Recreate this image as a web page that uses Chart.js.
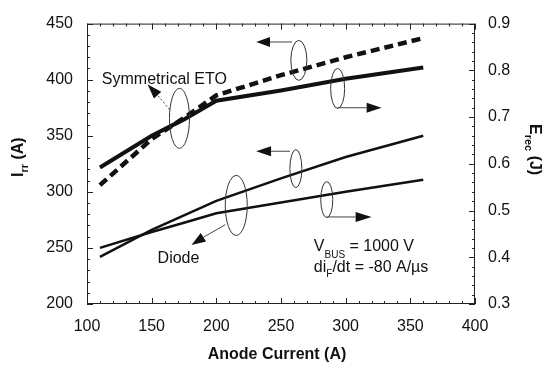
<!DOCTYPE html>
<html>
<head>
<meta charset="utf-8">
<script src="https://cdn.jsdelivr.net/npm/chart.js@4"></script>
<style>
  html, body { margin: 0; padding: 0; background: #fff; }
  canvas { display: block; }
</style>
</head>
<body>
<canvas id="chart" width="546" height="367"></canvas>
<script>
// values
const anodeCurrent = [110, 150, 175, 200, 250, 300, 360];
const etoIrr = [306, 347, 366, 386, 404, 420, 437];        // A, left axis (dashed)
const etoErec = [0.592, 0.66, 0.695, 0.735, 0.757, 0.782, 0.806]; // J, right axis
const diodeIrr = [242, 266, 279, 292, 312, 331, 350];      // A, left axis
const diodeErec = [0.42, 0.454, 0.474, 0.494, 0.517, 0.54, 0.566]; // J, right axis

const xTicks = [100, 150, 200, 250, 300, 350, 400];
const irrTicks = [200, 250, 300, 350, 400, 450];
const erecTicks = [0.3, 0.4, 0.5, 0.6, 0.7, 0.8, 0.9];

const FONT = "'Liberation Sans', Arial, sans-serif";
const INK = "#111";

const pts = (ys) => anodeCurrent.map((x, i) => ({ x, y: ys[i] }));

// annotation shapes, in (anode current, I_rr) units
const ellipses = [
  { x: 263.8, y: 417.2, rx: 8, ry: 20 },
  { x: 293.8, y: 392.2, rx: 7, ry: 20 },
  { x: 171.5, y: 365.5, rx: 10, ry: 30 },
  { x: 261.5, y: 320.7, rx: 6, ry: 19 },
  { x: 285.4, y: 293.1, rx: 6, ry: 18 },
  { x: 215.4, y: 287.9, rx: 11, ry: 30 }
];
const arrows = [
  { from: [258.5, 433.6], base: [241.5, 433.6], tip: [230.8, 433.6] },
  { from: [293.8, 375.0], base: [316.2, 375.0], tip: [327.7, 375.0] },
  { from: [163.8, 373.3], base: [154.6, 386.2], tip: [146.9, 395.7], dotted: true },
  { from: [256.9, 336.2], base: [242.3, 336.2], tip: [230.8, 336.2] },
  { from: [285.4, 277.6], base: [307.7, 277.6], tip: [320.0, 277.6] },
  { from: [206.9, 270.7], base: [190.0, 259.5], tip: [180.8, 252.6] }
];

function drawParts(ctx, parts, x, y) {
  let cx = x;
  parts.forEach(([txt, size, bold, dy]) => {
    ctx.font = `${bold ? "bold " : ""}${size}px ${FONT}`;
    ctx.fillText(txt, cx, y + dy);
    cx += ctx.measureText(txt).width;
  });
}

const decor = {
  id: "decor",
  afterDraw(chart) {
    const { ctx, chartArea: a, scales } = chart;
    const sx = scales.x, sy = scales.y, sy2 = scales.y2;
    const P = (x, y) => [sx.getPixelForValue(x), sy.getPixelForValue(y)];
    ctx.save();

    // frame
    ctx.strokeStyle = "#222";
    ctx.lineWidth = 1;
    ctx.strokeRect(a.left + 0.5, a.top + 0.5, a.right - a.left - 1, a.bottom - a.top - 1);

    // inward ticks
    ctx.beginPath();
    for (let v = 100; v <= 400; v += 10) {
      const px = Math.round(sx.getPixelForValue(v)) + 0.5;
      const len = v % 50 === 0 ? 6 : 3;
      ctx.moveTo(px, a.bottom); ctx.lineTo(px, a.bottom - len);
      ctx.moveTo(px, a.top); ctx.lineTo(px, a.top + len);
    }
    for (let v = 200; v <= 450; v += 10) {
      const py = Math.round(sy.getPixelForValue(v)) + 0.5;
      const len = v % 50 === 0 ? 6 : 3;
      ctx.moveTo(a.left, py); ctx.lineTo(a.left + len, py);
    }
    for (let k = 15; k <= 45; k++) {
      const v = k * 0.02;
      const py = Math.round(sy2.getPixelForValue(v)) + 0.5;
      const len = k % 5 === 0 ? 6 : 3;
      ctx.moveTo(a.right, py); ctx.lineTo(a.right - len, py);
    }
    ctx.stroke();

    // axis titles
    ctx.fillStyle = INK;
    ctx.textBaseline = "alphabetic";
    ctx.textAlign = "center";
    ctx.font = `bold 16px ${FONT}`;
    ctx.fillText("Anode Current (A)", 277, 359);
    ctx.textAlign = "left";

    ctx.save();
    ctx.translate(23, 177);
    ctx.rotate(-Math.PI / 2);
    drawParts(ctx, [["I", 16, true, 0], ["rr", 11, true, 5], [" (A)", 16, true, 0]], 0, 0);
    ctx.restore();

    ctx.save();
    ctx.translate(530, 124);
    ctx.rotate(Math.PI / 2);
    drawParts(ctx, [["E", 16, true, 0], ["rec", 11, true, 5], [" (J)", 16, true, 0]], 0, 0);
    ctx.restore();

    // ellipses
    ctx.strokeStyle = "#333";
    ctx.lineWidth = 1;
    ellipses.forEach(e => {
      const [cx, cy] = P(e.x, e.y);
      ctx.beginPath();
      ctx.ellipse(cx, cy, e.rx, e.ry, 0, 0, Math.PI * 2);
      ctx.stroke();
    });

    // arrows
    arrows.forEach(ar => {
      const f = P(...ar.from), b = P(...ar.base), t = P(...ar.tip);
      ctx.setLineDash(ar.dotted ? [2, 2] : []);
      ctx.strokeStyle = "#444";
      ctx.beginPath();
      ctx.moveTo(f[0], f[1]); ctx.lineTo(b[0], b[1]);
      ctx.stroke();
      ctx.setLineDash([]);
      const ang = Math.atan2(t[1] - b[1], t[0] - b[0]);
      const hw = 5;
      ctx.fillStyle = INK;
      ctx.beginPath();
      ctx.moveTo(t[0], t[1]);
      ctx.lineTo(b[0] + hw * Math.sin(ang), b[1] - hw * Math.cos(ang));
      ctx.lineTo(b[0] - hw * Math.sin(ang), b[1] + hw * Math.cos(ang));
      ctx.closePath();
      ctx.fill();
    });

    // labels
    ctx.fillStyle = INK;
    ctx.textBaseline = "middle";
    ctx.font = `16px ${FONT}`;
    let p = P(111.5, 400);
    ctx.fillText("Symmetrical ETO", p[0], p[1]);
    p = P(154.6, 240.5);
    ctx.fillText("Diode", p[0], p[1]);
    p = P(275.4, 250.9);
    drawParts(ctx, [["V", 16, false, 0], ["BUS", 10, false, 8], [" = 1000 V", 16, false, 0]], p[0], p[1]);
    p = P(275.4, 232.8);
    drawParts(ctx, [["di", 16, false, 0], ["F", 10, false, 7], ["/dt = -80 A/\u00b5s", 16, false, 0]], p[0], p[1]);

    ctx.restore();
  }
};

new Chart(document.getElementById("chart"), {
  type: "line",
  data: {
    datasets: [
      { label: "ETO Irr", data: pts(etoIrr), yAxisID: "y", borderColor: INK, borderWidth: 4.5, borderDash: [9, 5] },
      { label: "ETO Erec", data: pts(etoErec), yAxisID: "y2", borderColor: INK, borderWidth: 4 },
      { label: "Diode Irr", data: pts(diodeIrr), yAxisID: "y", borderColor: INK, borderWidth: 2.5 },
      { label: "Diode Erec", data: pts(diodeErec), yAxisID: "y2", borderColor: INK, borderWidth: 2.5 }
    ]
  },
  options: {
    responsive: false,
    animation: false,
    events: [],
    elements: { point: { radius: 0 }, line: { tension: 0, borderCapStyle: "butt" } },
    layout: { padding: { top: 14, left: 0, right: 0, bottom: 0 } },
    plugins: { legend: { display: false }, tooltip: { enabled: false } },
    scales: {
      x: {
        type: "linear", min: 100, max: 400,
        afterBuildTicks: s => { s.ticks = xTicks.map(v => ({ value: v })); },
        afterFit: s => { s.height = 63; },
        grid: { display: false, drawTicks: false },
        border: { display: false },
        ticks: { color: INK, font: { family: FONT, size: 16 }, padding: 13, maxRotation: 0 }
      },
      y: {
        position: "left", min: 200, max: 450,
        afterBuildTicks: s => { s.ticks = irrTicks.map(v => ({ value: v })); },
        afterFit: s => { s.width = 87; },
        grid: { display: false, drawTicks: false },
        border: { display: false },
        ticks: { color: INK, font: { family: FONT, size: 16 }, padding: 14 }
      },
      y2: {
        position: "right", min: 0.3, max: 0.9,
        afterBuildTicks: s => { s.ticks = erecTicks.map(v => ({ value: v })); },
        afterFit: s => { s.width = 71; },
        grid: { display: false, drawTicks: false },
        border: { display: false },
        ticks: { color: INK, font: { family: FONT, size: 16 }, padding: 13, callback: v => v.toFixed(1) }
      }
    }
  },
  plugins: [decor]
});
</script>
</body>
</html>
